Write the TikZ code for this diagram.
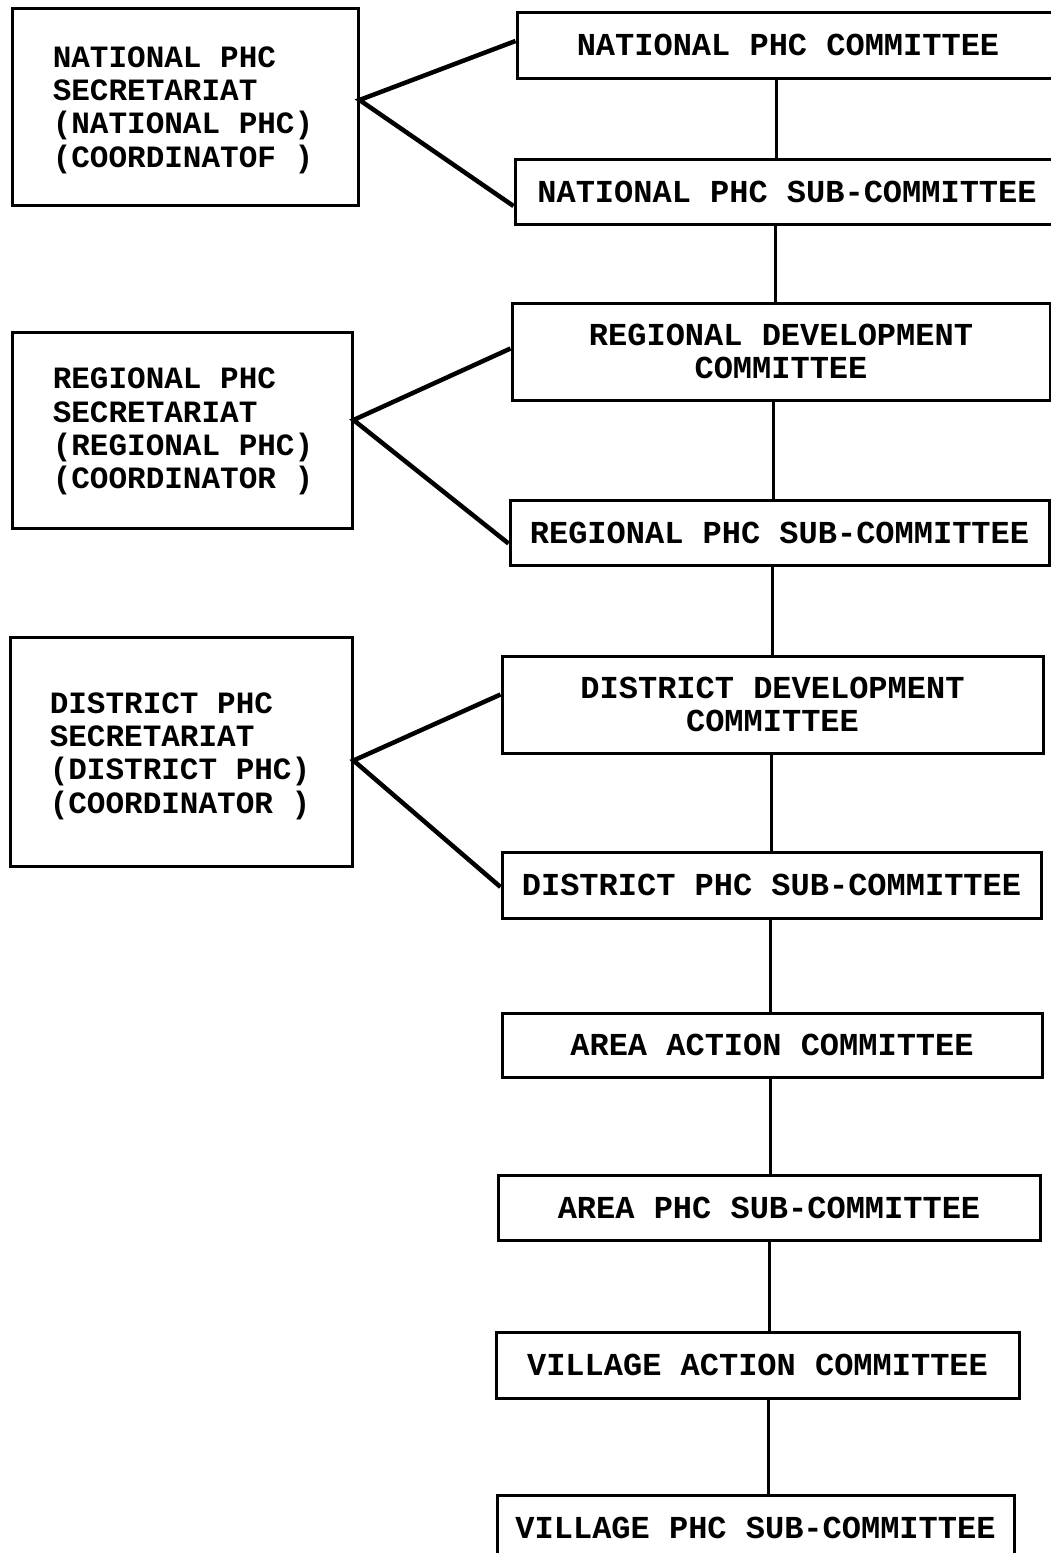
\documentclass[tikz,border=0pt]{standalone}
\usepackage{fontspec}
\newfontfamily\typefont{Liberation Mono}
\newcommand\seclines[2]{\raisebox{-#1}[\height][\depth]{\begin{tabular}{@{}l@{}}#2\end{tabular}}}
\begin{document}
\begin{tikzpicture}[x=1pt,y=-1pt,
  every node/.style={font=\typefont\bfseries\fontsize{32}{33}\selectfont},
  unit/.style={draw, line width=3pt, inner sep=0pt, align=center},
  secbox/.style={draw, line width=3pt, inner sep=0pt, align=left,
                 font=\typefont\bfseries\fontsize{31}{33.3}\selectfont},
  link/.style={line width=4.5pt},
  spine/.style={line width=3pt}]
\useasboundingbox (0,0) rectangle (1051,1553);
\clip (0,0) rectangle (1051,1553);

% secretariats (left column): text block set about 41pt in from the left side
\node[secbox, minimum width=346pt, minimum height=197pt] (nsec) at (185,106.5)
  {\hspace*{-4pt}\seclines{4pt}{NATIONAL PHC\\SECRETARIAT\\(NATIONAL PHC)\\(COORDINATOF )}};
\node[secbox, minimum width=340pt, minimum height=196pt] (rsec) at (182,430)
  {\hspace*{2pt}\seclines{2pt}{REGIONAL PHC\\SECRETARIAT\\(REGIONAL PHC)\\(COORDINATOR )}};
\node[secbox, minimum width=342pt, minimum height=229pt] (dsec) at (181,751.5)
  {\hspace*{-2pt}\seclines{5pt}{DISTRICT PHC\\SECRETARIAT\\(DISTRICT PHC)\\(COORDINATOR )}};

% committees (right column)
\node[unit, minimum width=542pt, minimum height=66pt] (ncom) at (788,45) {NATIONAL PHC COMMITTEE};
\node[unit, minimum width=544pt, minimum height=65pt] (nsub) at (787,192) {NATIONAL PHC SUB-COMMITTEE};
\node[unit, minimum width=538pt, minimum height=97pt] (rdev) at (781,351.5) {REGIONAL DEVELOPMENT\\COMMITTEE};
\node[unit, minimum width=539pt, minimum height=65pt] (rsub) at (779.5,532.5) {REGIONAL PHC SUB-COMMITTEE};
\node[unit, minimum width=541pt, minimum height=97pt] (ddev) at (772.5,704.5) {DISTRICT DEVELOPMENT\\COMMITTEE};
\node[unit, minimum width=539pt, minimum height=66pt] (dsub) at (771.5,885) {DISTRICT PHC SUB-COMMITTEE};
\node[unit, minimum width=540pt, minimum height=64pt] (aact) at (772,1045) {AREA ACTION COMMITTEE};
\node[unit, minimum width=542pt, minimum height=65pt] (asub) at (769,1207.5) {AREA PHC SUB-COMMITTEE};
\node[unit, minimum width=523pt, minimum height=66pt] (vact) at (757.5,1365) {VILLAGE ACTION COMMITTEE};
\node[unit, minimum width=517pt, minimum height=65pt] (vsub) at (755.5,1527.5) {VILLAGE PHC SUB-COMMITTEE};

% chain of committees
\foreach \a/\b/\x in {ncom/nsub/776, nsub/rdev/775, rdev/rsub/773, rsub/ddev/772,
                      ddev/dsub/771, dsub/aact/770, aact/asub/770, asub/vact/769, vact/vsub/768}
  \draw[spine] (\a.south -| \x,0) -- (\b.north -| \x,0);

% each secretariat serves two committees
\draw[link] ([yshift=4pt]ncom.west) -- ([yshift=6.5pt]nsec.east) -- ([yshift=-14pt]nsub.west);
\draw[link] ([yshift=3pt]rdev.west) -- ([yshift=10pt]rsec.east) -- ([yshift=-11pt]rsub.west);
\draw[link] ([yshift=10pt]ddev.west) -- ([yshift=-9pt]dsec.east) -- ([yshift=-2pt]dsub.west);
\end{tikzpicture}
\end{document}
